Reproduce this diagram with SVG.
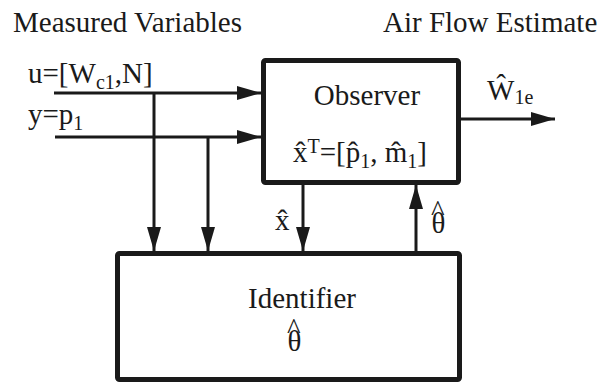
<svg xmlns="http://www.w3.org/2000/svg" width="605" height="385" viewBox="0 0 605 385">
<style>
text{font-family:"Liberation Serif","Times New Roman",serif;fill:#1a1a1a}
.t{font-size:29px}
.s{font-size:20px}
.box{fill:#fff;stroke:#1a1a1a;stroke-width:5}
.c{fill:none;stroke:#1a1a1a;stroke-width:3}
</style>
<defs>
<marker id="ah" viewBox="0 0 24 14" refX="24" refY="7" markerWidth="24" markerHeight="14" markerUnits="userSpaceOnUse" orient="auto">
<path d="M0,0 L24,7 L0,14 z" fill="#1a1a1a"/>
</marker>
</defs>
<rect width="605" height="385" fill="#fff"/>
<text class="t" x="13" y="32">Measured Variables</text>
<text class="t" x="383" y="32">Air Flow Estimate</text>
<g id="connectors">
<path class="c" d="M54,93 H261" marker-end="url(#ah)"/>
<path class="c" d="M55,137 H261" marker-end="url(#ah)"/>
<path class="c" d="M154,93 V251" marker-end="url(#ah)"/>
<path class="c" d="M208,137 V251" marker-end="url(#ah)"/>
<path class="c" d="M303,185 V251" marker-end="url(#ah)"/>
<path class="c" d="M416,251 V185" marker-end="url(#ah)"/>
<path class="c" d="M461,119 H555" marker-end="url(#ah)"/>
</g>
<g id="labels">
<text class="t" x="28" y="83">u=[W<tspan class="s" dy="6">c1</tspan><tspan dy="-6">,N]</tspan></text>
<text class="t" x="28" y="124">y=p<tspan class="s" dy="6">1</tspan></text>
<text class="t" x="487" y="100">Ŵ<tspan class="s" dy="4">1e</tspan></text>
<text class="t" x="275" y="230">x̂</text>
<text class="t" x="431" y="233" dx="0 -14.3" dy="0 -12">θ^</text>
</g>
<g id="observer">
<rect class="box" x="263.5" y="60.5" width="195" height="122" rx="2"/>
<text class="t" x="367" y="105" text-anchor="middle">Observer</text>
<text class="t" x="293" y="162">x̂<tspan class="s" dy="-9">T</tspan><tspan dy="9">=[p̂</tspan><tspan class="s" dy="6">1</tspan><tspan dy="-6">, m̂</tspan><tspan class="s" dy="6">1</tspan><tspan dy="-6">]</tspan></text>
</g>
<g id="identifier">
<rect class="box" x="117.5" y="253.5" width="342" height="126" rx="2"/>
<text class="t" x="302" y="308" text-anchor="middle">Identifier</text>
<text class="t" x="287" y="351" dx="0 -14.3" dy="0 -12">θ^</text>
</g>
</svg>
